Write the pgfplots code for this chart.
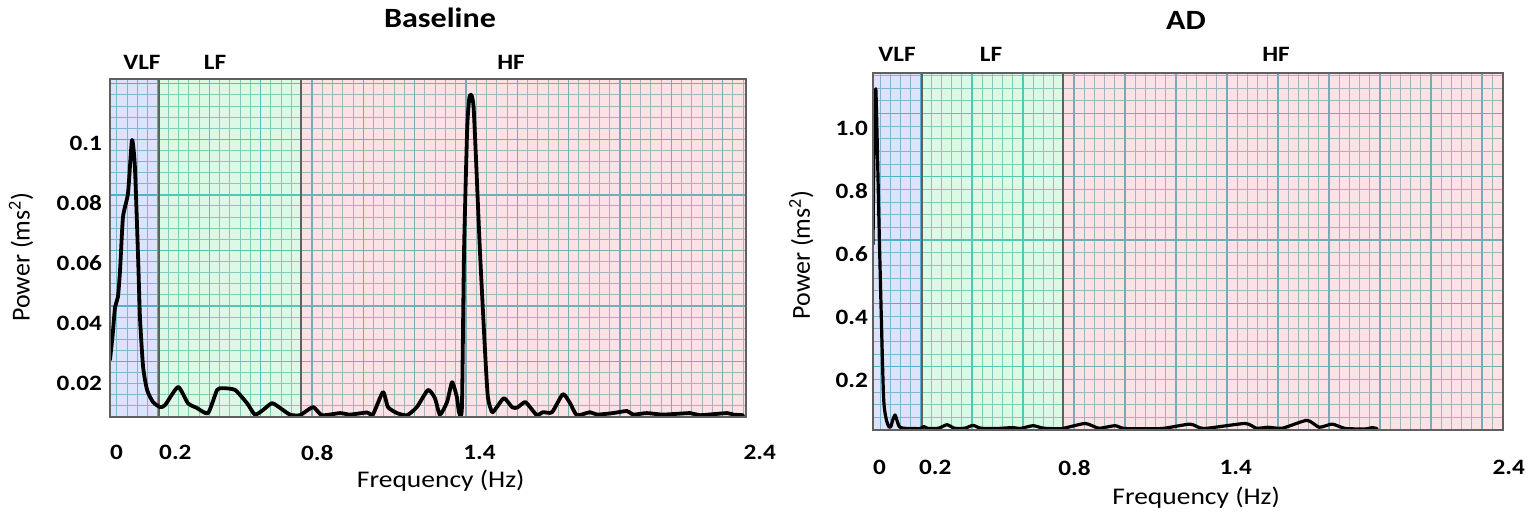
\documentclass[border=0pt]{standalone}
\usepackage{fontspec}
\setmainfont{Carlito}[FakeStretch=1.15]
\newfontfamily\ylabfont{Carlito}
\usepackage{pgfplots}
\pgfplotsset{compat=1.18}
\usepackage{pgfplotstable}

\definecolor{majg}{RGB}{60,182,192}
\definecolor{ming}{RGB}{125,192,198}
\definecolor{vlfc}{RGB}{138,162,238}
\definecolor{lfc}{RGB}{138,238,162}
\definecolor{hfc}{RGB}{245,158,165}
\definecolor{framec}{RGB}{96,96,96}

\newcommand{\fs}[1]{\fontsize{#1}{#1}\selectfont}

\pgfplotstableread{
f p
0.000 0.0277
0.010 0.0360
0.019 0.0453
0.030 0.0487
0.038 0.0577
0.049 0.0753
0.068 0.0833
0.083 0.1010
0.094 0.0920
0.106 0.0620
0.113 0.0420
0.125 0.0253
0.140 0.0177
0.162 0.0137
0.189 0.0120
0.208 0.0127
0.257 0.0187
0.294 0.0133
0.328 0.0117
0.370 0.0100
0.404 0.0177
0.426 0.0183
0.472 0.0177
0.517 0.0133
0.547 0.0095
0.577 0.0110
0.611 0.0133
0.642 0.0117
0.679 0.0095
0.717 0.0093
0.766 0.0120
0.800 0.0093
0.868 0.0100
0.906 0.0095
0.970 0.0102
0.992 0.0095
1.030 0.0170
1.049 0.0120
1.083 0.0100
1.121 0.0093
1.158 0.0120
1.200 0.0177
1.226 0.0150
1.245 0.0095
1.272 0.0137
1.291 0.0203
1.309 0.0153
1.317 0.0103
1.328 0.0120
1.336 0.0640
1.348 0.1050
1.356 0.1150
1.364 0.1160
1.372 0.1120
1.381 0.0950
1.396 0.0640
1.415 0.0310
1.426 0.0153
1.442 0.0103
1.460 0.0120
1.487 0.0150
1.517 0.0120
1.536 0.0118
1.566 0.0137
1.585 0.0120
1.611 0.0093
1.634 0.0103
1.668 0.0103
1.709 0.0163
1.736 0.0133
1.762 0.0093
1.811 0.0103
1.838 0.0095
1.898 0.0100
1.951 0.0107
1.974 0.0095
2.026 0.0100
2.087 0.0095
2.189 0.0100
2.226 0.0093
2.328 0.0100
2.351 0.0095
2.389 0.0093
}\baselinedata

\pgfplotstableread{
f p
0.000 0.630
0.004 0.950
0.011 1.120
0.025 0.620
0.040 0.150
0.052 0.070
0.062 0.050
0.068 0.052
0.076 0.075
0.084 0.089
0.092 0.070
0.100 0.052
0.115 0.047
0.150 0.046
0.180 0.046
0.194 0.052
0.210 0.046
0.250 0.047
0.282 0.058
0.310 0.047
0.350 0.047
0.381 0.056
0.410 0.047
0.470 0.046
0.533 0.049
0.560 0.046
0.610 0.055
0.650 0.047
0.720 0.046
0.808 0.062
0.860 0.047
0.922 0.055
0.960 0.046
1.100 0.046
1.208 0.060
1.260 0.046
1.417 0.062
1.460 0.047
1.505 0.050
1.560 0.047
1.653 0.072
1.700 0.050
1.749 0.060
1.800 0.046
1.880 0.045
1.900 0.049
1.920 0.046
}\addata

\pgfplotsset{hrv/.style={
  scale only axis, axis on top, clip=true, anchor=south west,
  tick style={draw=none},
  axis line style={draw=framec, line width=1.5bp},
  xticklabel style={anchor=north west, inner sep=0pt, font=\bfseries\fs{22}},
  yticklabel style={anchor=east, inner sep=0pt, font=\bfseries\fs{22}},
  scaled y ticks=false, scaled x ticks=false,
  xlabel style={anchor=center, font=\fs{24}},
  ylabel style={anchor=center, font=\ylabfont\fs{26}},
}}

\begin{document}
\begin{tikzpicture}
\path[use as bounding box] (0,0) rectangle (1536bp,515bp);

% ---------------- Baseline ----------------
\begin{axis}[hrv,
  at={(110bp,98bp)}, width=636bp, height=338bp,
  xmin=0, xmax=2.4, ymin=0.0087, ymax=0.1213,
  xtick={0,0.185,0.72,1.333,2.39}, xticklabels={0,0.2,0.8,1.4,2.4},
  ytick={0.02,0.04,0.06,0.08,0.1}, yticklabels={0.02,0.04,0.06,0.08,0.1},
  xticklabel style={yshift=-28bp},
  yticklabel style={xshift=-8bp},
  xlabel={Frequency (Hz)},
  xlabel style={at={(axis description cs:0.52,-0.189)}},
  ylabel={Power (ms\textsuperscript{2})},
  ylabel style={at={(axis description cs:-0.14,0.473)}},
]
\pgfplotsinvokeforeach{1,...,62}{\draw[ming, line width=1bp] ({-0.0127+#1*0.03874},0.0087) -- ({-0.0127+#1*0.03874},0.1213);}
\pgfplotsinvokeforeach{1,...,30}{\draw[ming, line width=1bp] (0,{0.0087+#1*0.0037}) -- (2.4,{0.0087+#1*0.0037});}
\pgfplotsinvokeforeach{1,...,12}{\draw[majg, line width=1.4bp] ({-0.0127+#1*0.1937},0.0087) -- ({-0.0127+#1*0.1937},0.1213);}
\pgfplotsinvokeforeach{1,...,6}{\draw[majg, line width=1.4bp] (0,{0.0087+#1*0.0185}) -- (2.4,{0.0087+#1*0.0185});}
\fill[vlfc, fill opacity=0.3] (0,0.0087) rectangle (0.185,0.1213);
\fill[lfc, fill opacity=0.3] (0.185,0.0087) rectangle (0.72,0.1213);
\fill[hfc, fill opacity=0.3] (0.72,0.0087) rectangle (2.4,0.1213);
\draw[framec, line width=1.5bp] (0.185,0.0087) -- (0.185,0.1213);
\draw[framec, line width=1.5bp] (0.72,0.0087) -- (0.72,0.1213);
\addplot[black, line width=3.8bp, smooth, tension=0.35, line join=round, line cap=round] table[x=f,y=p]{\baselinedata};
\end{axis}

% ---------------- AD ----------------
\begin{axis}[hrv,
  at={(873bp,85bp)}, width=630bp, height=357bp,
  xmin=0, xmax=2.4, ymin=0.0413, ymax=1.1746,
  xtick={0,0.175,0.705,1.32,2.36}, xticklabels={0,0.2,0.8,1.4,2.4},
  ytick={0.2,0.4,0.6,0.8,1.0}, yticklabels={0.2,0.4,0.6,0.8,1.0},
  xticklabel style={yshift=-30bp},
  yticklabel style={xshift=-5bp},
  xlabel={Frequency (Hz)},
  xlabel style={at={(axis description cs:0.513,-0.19)}},
  ylabel={Power (ms\textsuperscript{2})},
  ylabel style={at={(axis description cs:-0.114,0.49)}},
]
\pgfplotsinvokeforeach{1,...,62}{\draw[ming, line width=1bp] ({-0.0114+#1*0.03886},0.0413) -- ({-0.0114+#1*0.03886},1.1746);}
\pgfplotsinvokeforeach{1,...,28}{\draw[ming, line width=1bp] (0,{0.0413+#1*0.0402}) -- (2.4,{0.0413+#1*0.0402});}
\pgfplotsinvokeforeach{1,...,12}{\draw[majg, line width=1.4bp] ({-0.0114+#1*0.1943},0.0413) -- ({-0.0114+#1*0.1943},1.1746);}
\pgfplotsinvokeforeach{1,...,5}{\draw[majg, line width=1.4bp] (0,{0.0413+#1*0.201}) -- (2.4,{0.0413+#1*0.201});}
\fill[vlfc, fill opacity=0.3] (0,0.0413) rectangle (0.187,1.1746);
\fill[lfc, fill opacity=0.3] (0.187,0.0413) rectangle (0.724,1.1746);
\fill[hfc, fill opacity=0.3] (0.724,0.0413) rectangle (2.4,1.1746);
\draw[framec, line width=1.5bp] (0.187,0.0413) -- (0.187,1.1746);
\draw[framec, line width=1.5bp] (0.724,0.0413) -- (0.724,1.1746);
\addplot[black, line width=3.2bp, smooth, tension=0.35, line join=round, line cap=round] table[x=f,y=p]{\addata};
\end{axis}

% titles and band labels
\node[font=\bfseries\fs{28}] at (440bp,497bp) {Baseline};
\node[font=\bfseries\fs{28}] at (1186bp,495bp) {AD};
\node[font=\bfseries\fs{22}] at (142bp,453bp) {VLF};
\node[font=\bfseries\fs{22}] at (215bp,453bp) {LF};
\node[font=\bfseries\fs{22}] at (511bp,453bp) {HF};
\node[font=\bfseries\fs{22}] at (897bp,461bp) {VLF};
\node[font=\bfseries\fs{22}] at (991bp,461bp) {LF};
\node[font=\bfseries\fs{22}] at (1276bp,461bp) {HF};
\end{tikzpicture}
\end{document}
